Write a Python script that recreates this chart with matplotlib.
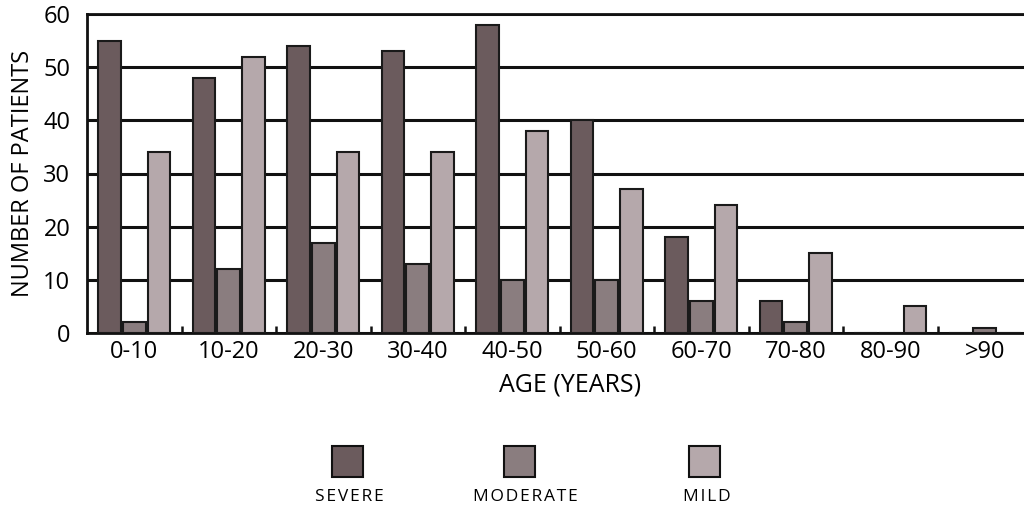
import numpy as np
import matplotlib.pyplot as plt
from matplotlib.patches import Rectangle

# values
ages = ['0-10', '10-20', '20-30', '30-40', '40-50', '50-60', '60-70', '70-80', '80-90', '>90']
severe = [55, 48, 54, 53, 58, 40, 18, 6, 0, 0]
moderate = [2, 12, 17, 13, 10, 10, 6, 2, 0, 1]
mild = [34, 52, 34, 34, 38, 27, 24, 15, 5, 0]

labels = ['SEVERE', 'MODERATE', 'MILD']
colors = ['#6b5b5d', '#8a7d7f', '#b5a8ab']

plt.rcParams['font.family'] = ['Open Sans', 'DejaVu Sans']

fig = plt.figure(figsize=(10.24, 5.08), dpi=100)
ax = fig.add_axes([87 / 1024, 175 / 508, 1 - 87 / 1024, 319 / 508])

x = np.arange(len(ages))
w = 0.24
off = 0.262
for vals, dx, c in zip([severe, moderate, mild], [-off, 0, off], colors):
    ax.bar(x + dx, vals, width=w, color=c, edgecolor='#1a1a1a', linewidth=1.5, zorder=3)

ax.set_ylim(0, 60)
ax.set_xlim(-0.5, 9.415)
ax.set_yticks(range(0, 61, 10))
ax.yaxis.grid(True, color='#111111', linewidth=2.2, zorder=0)
ax.set_axisbelow(True)

ax.set_xticks(x)
ax.set_xticklabels(ages)
ax.set_xticks(np.arange(0.5, 9.5, 1), minor=True)
ax.tick_params(axis='x', which='major', length=0, pad=5, labelsize=17)
ax.tick_params(axis='x', which='minor', direction='in', length=5, width=1.8, color='#111111')
ax.tick_params(axis='y', length=0, pad=12, labelsize=17)
ax.spines['right'].set_visible(False)
for s in ['left', 'bottom', 'top']:
    ax.spines[s].set_linewidth(2)
    ax.spines[s].set_color('#111111')

ax.set_ylabel('NUMBER OF PATIENTS', fontsize=17, labelpad=6)
fig.text(570 / 1024, 1 - 385 / 508, 'AGE (YEARS)', fontsize=18, ha='center', va='center')

# legend: squares with text underneath
sq_x = [332, 504, 689]
txt_x = [349, 525, 707]
for sx, tx, c, lab in zip(sq_x, txt_x, colors, labels):
    fig.add_artist(Rectangle((sx / 1024, 1 - 477 / 508), 31 / 1024, 31 / 508,
                             transform=fig.transFigure, facecolor=c,
                             edgecolor='#111111', linewidth=1.5))
    fig.text(tx / 1024, 1 - 497 / 508, '\u200a'.join(lab), fontsize=12.5,
             ha='center', va='center', family=['Open Sans', 'DejaVu Sans'])

fig.savefig('out.png', dpi=100)
